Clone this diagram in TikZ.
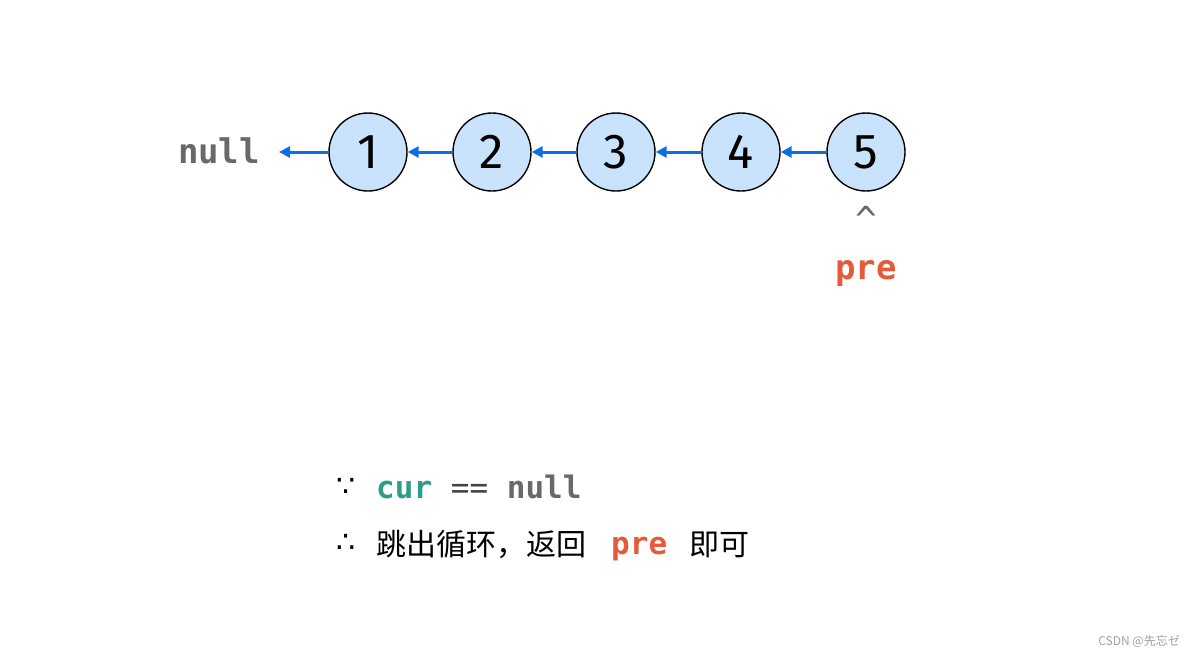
\documentclass[tikz,border=0pt]{standalone}
\usepackage{fontspec}
\setmainfont{Fira Sans}
\newfontfamily\monob{DejaVu Sans Mono}
\newfontfamily\cjk{Noto Sans CJK SC}
\newfontfamily\dvs{DejaVu Sans}
\usetikzlibrary{arrows.meta}
\definecolor{nodefill}{HTML}{C9E3FD}
\definecolor{arrowblue}{HTML}{0A6FDF}
\definecolor{nullgray}{HTML}{6B6868}
\definecolor{curteal}{HTML}{2E9C8A}
\definecolor{preorange}{HTML}{E45A3A}
\definecolor{eqgray}{HTML}{444444}
\definecolor{wmgray}{HTML}{A0A0A0}
\begin{document}
\begin{tikzpicture}[x=1pt,y=-1pt,
  listnode/.style={circle,draw=black,line width=1.4pt,fill=nodefill,minimum size=78pt,inner sep=0pt,
    font=\fontsize{49}{49}\selectfont},
  link/.style={draw=arrowblue,line width=3pt,-{Triangle[length=11pt,width=11pt]}},
  codetxt/.style={inner sep=0pt,anchor=base west,font=\monob\bfseries\fontsize{31}{31}\selectfont},
  cntxt/.style={inner sep=0pt,anchor=base west,font=\cjk\fontsize{30}{30}\selectfont},
  symtxt/.style={inner sep=0pt,anchor=base west,font=\dvs\fontsize{30}{30}\selectfont}]
\useasboundingbox (0,0) rectangle (1195,656);
\node[listnode] (n1) at (368,152) {1};
\node[listnode] (n2) at (492,152) {2};
\node[listnode] (n3) at (616,152) {3};
\node[listnode] (n4) at (741,152) {4};
\node[listnode] (n5) at (866,152) {5};
\coordinate (nullend) at (279,152);
\draw[link] (n1.west) -- (nullend);
\draw[link] (n2.west) -- (n1.east);
\draw[link] (n3.west) -- (n2.east);
\draw[link] (n4.west) -- (n3.east);
\draw[link] (n5.west) -- (n4.east);
\node[inner sep=0pt,anchor=base,text=nullgray,font=\monob\bfseries\fontsize{34}{34}\selectfont] (nulltxt) at (219,163) {null};
\node[inner sep=0pt,anchor=base,text=nullgray,font=\monob\fontsize{36}{36}\selectfont] (caret) at (866,232) {\^{}};
\node[inner sep=0pt,anchor=base,text=preorange,font=\monob\bfseries\fontsize{34}{34}\selectfont] (pretop) at (866,279) {pre};
\node[symtxt] (because) at (336,496) {∵};
\node[codetxt] (line1) at (376,498) {\textcolor{curteal}{cur} \textcolor{eqgray}{\mdseries ==} \textcolor{nullgray}{null}};
\node[symtxt] (therefore) at (336,552) {∴};
\node[cntxt] (jump) at (376,555) {跳出循环，返回};
\node[codetxt,text=preorange] (prebot) at (611,554) {pre};
\node[cntxt] (ok) at (689,555) {即可};
\node[inner sep=0pt,anchor=base east,text=wmgray,font=\cjk\fontsize{12}{12}\selectfont] (wmark) at (1180,645) {CSDN @先忘ゼ};
\end{tikzpicture}
\end{document}
